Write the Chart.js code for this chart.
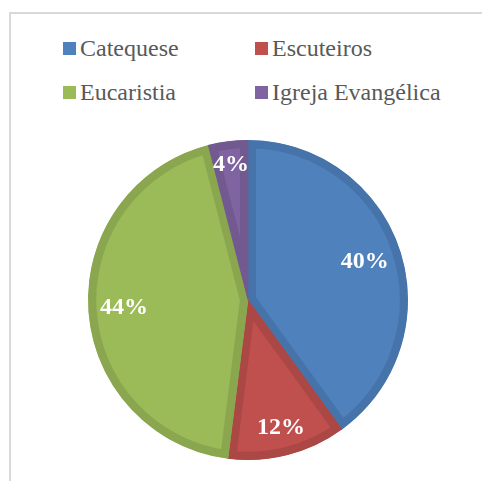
<!DOCTYPE html>
<html>
<head>
<meta charset="utf-8">
<script src="https://cdn.jsdelivr.net/npm/chart.js@4"></script>
</head>
<body style="margin:0;padding:0;background:#fff">
<div id="wrap" style="position:relative;width:482px;height:481px;overflow:hidden">
  <div style="position:absolute;left:9px;top:12px;width:600px;height:600px;border:2px solid #d9d9d9;box-sizing:border-box"></div>
  <div id="legend" style="position:absolute;left:63px;top:34px;display:grid;grid-template-columns:192px 200px;row-gap:16px"></div>
  <canvas id="pie" width="482" height="481" style="position:absolute;left:0;top:0"></canvas>
</div>
<script>
// Dados
const categorias = ['Catequese', 'Escuteiros', 'Eucaristia', 'Igreja Evangélica'];
const valores = [40, 12, 44, 4];
const cores = ['#4f81bd', '#c0504d', '#9bbb59', '#8064a2'];
const coresBorda = ['#4674aa', '#ab4744', '#8aa74f', '#725a91'];

const fonteSerif = "'Liberation Serif', Tinos, 'Times New Roman', 'DejaVu Serif', serif";

// Legenda em duas colunas
const legenda = document.getElementById('legend');
const itens = [];
categorias.forEach(function(nome, i) {
    const item = document.createElement('div');
    item.style.cssText = 'display:flex;align-items:center;white-space:nowrap;height:28px;font-size:24px;color:#595959';
    item.style.fontFamily = fonteSerif;
    const box = document.createElement('span');
    box.style.cssText = 'display:inline-block;width:13px;height:13px;margin-right:4px;background:' + cores[i];
    item.appendChild(box);
    item.appendChild(document.createTextNode(nome));
    legenda.appendChild(item);
    itens.push(item);
});

// Rótulos de percentagem dentro das fatias
const rotulos = {
    id: 'rotulos',
    afterDatasetsDraw(chart) {
        const ctx = chart.ctx;
        const total = valores.reduce((a, b) => a + b, 0);
        chart.getDatasetMeta(0).data.forEach(function(arc, i) {
            const texto = Math.round(valores[i] / total * 100) + '%';
            ctx.save();
            ctx.font = 'bold 24px ' + fonteSerif;
            ctx.fillStyle = '#fff';
            ctx.textAlign = 'center';
            ctx.textBaseline = 'middle';
            const w = ctx.measureText(texto).width / 2;
            const h = 11;
            const meio = (arc.startAngle + arc.endAngle) / 2;
            const dx = Math.cos(meio), dy = Math.sin(meio);
            const ext = w * Math.abs(dx) + h * Math.abs(dy);
            const r = arc.outerRadius - 11 - ext;
            ctx.fillText(texto, arc.x + dx * r, arc.y + dy * r);
            ctx.restore();
        });
    }
};

const grafico = new Chart(document.getElementById('pie'), {
    type: 'pie',
    data: {
        labels: categorias,
        datasets: [{
            data: valores,
            backgroundColor: cores,
            borderColor: coresBorda,
            borderWidth: 8,
            borderAlign: 'inner'
        }]
    },
    options: {
        responsive: false,
        animation: false,
        layout: { padding: { top: 140, bottom: 21, left: 88, right: 74 } },
        plugins: {
            legend: { display: false },
            tooltip: { enabled: false }
        }
    },
    plugins: [rotulos]
});

// Redesenha depois, caso a fonte ainda não estivesse disponível
function refazer() {
    itens.forEach(function(item) {
        item.style.fontFamily = 'serif';
        void item.offsetWidth;
        item.style.fontFamily = fonteSerif;
    });
    grafico.draw();
}
setTimeout(refazer, 100);
setTimeout(refazer, 400);
</script>
</body>
</html>
